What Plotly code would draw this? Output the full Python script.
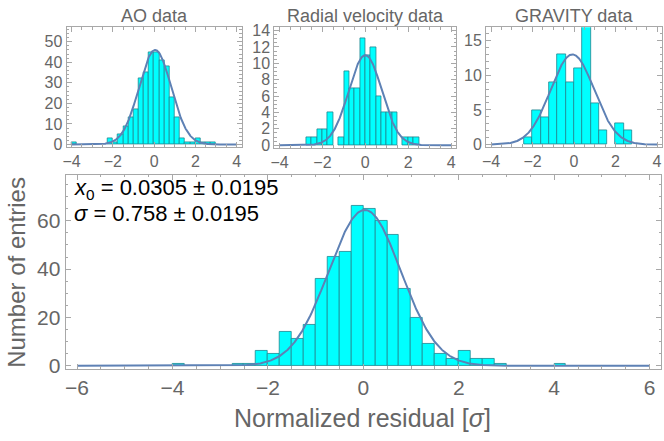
import numpy as np
import plotly.graph_objects as go

# ---------------------------
# Data
# ---------------------------
# combined histogram, bin width 0.25, left bin edges
all_edges = [-4.0, -2.75, -2.5, -2.25, -2.0, -1.75, -1.5, -1.25, -1.0, -0.75, -0.5, -0.25,
             0.0, 0.25, 0.5, 0.75, 1.0, 1.25, 1.5, 1.75, 2.0, 2.25, 2.5, 2.75, 4.0]
all_counts = [1, 1, 1, 6, 5, 14, 11, 17, 36, 45, 47, 66,
              65, 60, 54, 32, 20, 9, 5, 3, 6, 3, 3, 1, 1]

ao_edges = [-4.0, -2.25, -2.0, -1.75, -1.5, -1.25, -1.0, -0.75, -0.5, -0.25,
            0.0, 0.25, 0.5, 0.75, 1.0, 1.25, 1.5, 1.75, 2.0, 2.25, 2.5, 2.75]
ao_counts = [1, 3, 1, 5, 9, 13, 17, 32, 35, 45,
             45, 41, 38, 23, 13, 3, 1, 1, 3, 1, 1, 1]

rv_edges = [-2.75, -2.5, -2.25, -2.0, -1.75, -1.25, -1.0, -0.75, -0.5, -0.25,
            0.0, 0.25, 0.5, 0.75, 1.0, 1.25, 1.75, 2.0, 2.25]
rv_counts = [1, 1, 2, 2, 4, 1, 9, 7, 7, 13,
             11, 12, 6, 4, 4, 4, 1, 1, 1]

grav_edges = [-2.4, -2.0, -1.6, -1.2, -0.8, -0.4, 0.0, 0.4, 0.8, 1.2, 2.0, 2.4]
grav_counts = [1, 5, 4, 9, 13, 9, 11, 17, 6, 2, 3, 2]

# gaussian fits: amplitude, centre, width
fit_all = (64.5, 0.0305, 0.758)
fit_ao = (46.0, 0.05, 0.78)
fit_rv = (11.0, 0.0, 0.77)
fit_grav = (13.0, -0.08, 1.05)

panel_titles = ["AO data", "Radial velocity data", "GRAVITY data"]
fit_lines = ["<i>x</i><sub>0</sub> = 0.0305 ± 0.0195", "<i>σ</i> = 0.758 ± 0.0195"]
x_title = "Normalized residual [<i>σ</i>]"
y_title = "Number of entries"

# ---------------------------
# Styling
# ---------------------------
W, H = 664, 441
FONT = "Liberation Sans"
GRAY = "#666666"
FRAME = "#a8a8a8"
BAR_FILL = "#00ffff"
BAR_EDGE = "rgb(30,135,145)"
CURVE = "#5e81b5"


def px_x(a, b):
    return [a / W, b / W]


def px_y(top, bottom):
    return [1 - bottom / H, 1 - top / H]


def gauss(xs, p):
    a, m, s = p
    return a * np.exp(-(xs - m) ** 2 / (2 * s ** 2))


def axis_style(size, dtick, minor):
    return dict(showline=True, linecolor=FRAME, linewidth=1, mirror="ticks",
                ticks="inside", ticklen=5, tickcolor=FRAME, showgrid=False, zeroline=False,
                dtick=dtick, tickfont=dict(family=FONT, size=size, color=GRAY),
                minor=dict(ticks="inside", ticklen=2.5, tickcolor=FRAME, dtick=minor))


def label(text, x, y, size, color=GRAY, **kw):
    fig.add_annotation(text=text, xref="paper", yref="paper", x=x / W, y=1 - y / H,
                       showarrow=False, font=dict(family=FONT, size=size, color=color), **kw)


fig = go.Figure()

panels = [
    # edges, counts, width, fit, axis id, curve span
    (all_edges, all_counts, 0.25, fit_all, "", 6),
    (ao_edges, ao_counts, 0.25, fit_ao, "2", 4),
    (rv_edges, rv_counts, 0.25, fit_rv, "3", 4),
    (grav_edges, grav_counts, 0.4, fit_grav, "4", 4),
]

for edges, counts, bw, fit, ax, span in panels:
    fig.add_trace(go.Bar(x=edges, y=counts, width=bw, offset=0,
                         marker=dict(color=BAR_FILL, line=dict(color=BAR_EDGE, width=0.8)),
                         xaxis="x" + ax, yaxis="y" + ax, showlegend=False, hoverinfo="skip"))
    xs = np.linspace(-span, span, 801)
    fig.add_trace(go.Scatter(x=xs, y=gauss(xs, fit), mode="lines",
                             line=dict(color=CURVE, width=2),
                             xaxis="x" + ax, yaxis="y" + ax, showlegend=False, hoverinfo="skip"))

layout = dict(
    width=W, height=H, margin=dict(l=0, r=0, t=0, b=0),
    paper_bgcolor="white", plot_bgcolor="white", bargap=0,
    font=dict(family=FONT, color=GRAY),
)

# main panel
layout["xaxis"] = dict(axis_style(21, 2, 0.5), domain=px_x(62, 661), range=[-6.24, 6.24], anchor="y")
layout["yaxis"] = dict(axis_style(21, 20, 5), domain=px_y(175, 375), range=[-1.3, 79], anchor="x")

# small panels
small = [
    ("2", px_x(63, 239), px_y(23, 146), [-1.1, 57], 10, 2),
    ("3", px_x(272, 455), px_y(23, 147), [-0.3, 14.4], 2, 0.5),
    ("4", px_x(485, 662), px_y(23, 146), [-0.3, 16.9], 5, 1),
]
for ax, xd, yd, yr, ydt, ymin in small:
    layout["xaxis" + ax] = dict(axis_style(16, 2, 0.5), domain=xd, range=[-4.24, 4.24], anchor="y" + ax)
    layout["yaxis" + ax] = dict(axis_style(16, ydt, ymin), domain=yd, range=yr, anchor="x" + ax)

fig.update_layout(**layout)

# panel titles
for (ax, xd, yd, yr, ydt, ymin), title in zip(small, panel_titles):
    label(title, (xd[0] + xd[1]) / 2 * W, 11, 18, xanchor="center", yanchor="middle")

# axis titles
label(x_title, 361, 426, 25, xanchor="center", yanchor="middle")
label(y_title, 13, 275, 24, xanchor="center", yanchor="middle", textangle=-90)

# fit result
label(fit_lines[0], 69, 190, 22, color="black", xanchor="left", yanchor="middle", borderpad=0)
label(fit_lines[1], 69, 215, 22, color="black", xanchor="left", yanchor="middle", borderpad=0)

fig.write_html("out.html", config={"displayModeBar": False},
               post_script="document.body.style.margin='0';document.body.style.overflow='hidden';")
